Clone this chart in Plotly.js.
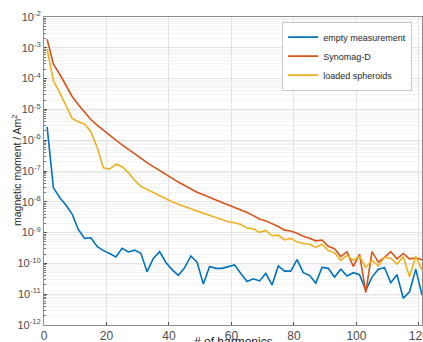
<!DOCTYPE html>
<html>
<head>
<meta charset="utf-8">
<script src="https://cdn.plot.ly/plotly-3.0.1.min.js"></script>
<style>html,body{margin:0;padding:0;background:#fff;}#chart{width:423px;height:342px;}</style>
</head>
<body>
<div id="chart"></div>
<script>
// odd harmonics 1..121
const harmonics = [];
for (let n = 1; n <= 121; n += 2) harmonics.push(n);

const emptyMeasurement = [
  2.7e-6, 2.9e-8, 1.38e-8, 7.9e-9, 4.0e-9, 1.26e-9, 6.5e-10, 6.8e-10, 3.55e-10, 2.6e-10,
  2.1e-10, 1.62e-10, 3.1e-10, 2.35e-10, 2.7e-10, 2.14e-10, 5.4e-11, 1.45e-10, 2.4e-10, 1.07e-10,
  6.3e-11, 4.1e-11, 7.2e-11, 1.74e-10, 1.1e-10, 2.14e-11, 7.9e-11, 6.9e-11, 6.9e-11, 7.9e-11,
  8.9e-11, 4.7e-11, 2.6e-11, 3.16e-11, 2.7e-11, 4.7e-11, 2.0e-11, 8.3e-11, 5.6e-11, 5.6e-11,
  1.32e-10, 5.0e-11, 4.1e-11, 2.3e-11, 7.4e-11, 6.9e-11, 3.6e-11, 6.5e-11, 3.9e-11, 5.0e-11,
  4.3e-11, 1.32e-11, 3.6e-11, 6.5e-11, 7.2e-11, 2.35e-11, 4.3e-11, 7.4e-12, 1.2e-11, 6.5e-11,
  9.3e-12
];

const synomagD = [
  1.9e-3, 2.95e-4, 1.41e-4, 6.0e-5, 2.63e-5, 1.41e-5, 7.9e-6, 4.7e-6, 3.1e-6, 2.1e-6,
  1.41e-6, 1.0e-6, 7.1e-7, 5.0e-7, 3.55e-7, 2.57e-7, 1.86e-7, 1.38e-7, 1.02e-7, 7.6e-8,
  5.6e-8, 4.37e-8, 3.4e-8, 2.63e-8, 2.04e-8, 1.7e-8, 1.38e-8, 1.15e-8, 9.5e-9, 7.9e-9,
  6.6e-9, 5.4e-9, 4.5e-9, 3.55e-9, 2.75e-9, 2.4e-9, 2.0e-9, 1.58e-9, 1.2e-9, 1.12e-9,
  9.5e-10, 7.6e-10, 6.6e-10, 5.4e-10, 5.75e-10, 3.6e-10, 3.0e-10, 1.66e-10, 2.4e-10, 7.9e-11,
  2.0e-10, 1.12e-11, 2.4e-10, 1.1e-10, 1.58e-10, 2.4e-10, 1.41e-10, 2.1e-10, 1.41e-10, 1.5e-10,
  1.32e-10
];

const loadedSpheroids = [
  9.1e-4, 8.5e-5, 3.55e-5, 1.41e-5, 5.1e-6, 4.0e-6, 3.3e-6, 1.9e-6, 5.9e-7, 1.26e-7,
  1.15e-7, 1.66e-7, 1.38e-7, 8.9e-8, 5.0e-8, 3.16e-8, 2.5e-8, 2.04e-8, 1.66e-8, 1.26e-8,
  1.0e-8, 8.3e-9, 6.9e-9, 5.75e-9, 5.0e-9, 4.27e-9, 3.63e-9, 3.16e-9, 2.7e-9, 2.24e-9,
  2.1e-9, 1.82e-9, 1.41e-9, 1.32e-9, 1.02e-9, 1.17e-9, 7.9e-10, 8.3e-10, 5.75e-10, 6.5e-10,
  5.0e-10, 4.4e-10, 4.2e-10, 3.3e-10, 4.2e-10, 2.6e-10, 2.2e-10, 1.26e-10, 1.82e-10, 1.26e-10,
  1.7e-10, 7.4e-11, 1.26e-10, 8.3e-11, 1.58e-10, 1.48e-10, 9.5e-11, 1.66e-10, 3.7e-11, 1.7e-10,
  6.3e-11
];

const seriesNames = ['empty measurement', 'Synomag-D', 'loaded spheroids'];
const yTickVals = [1e-12, 1e-11, 1e-10, 1e-9, 1e-8, 1e-7, 1e-6, 1e-5, 1e-4, 1e-3, 1e-2];
const yTickText = ['10<sup>-12</sup>', '10<sup>-11</sup>', '10<sup>-10</sup>', '10<sup>-9</sup>', '10<sup>-8</sup>',
  '10<sup>-7</sup>', '10<sup>-6</sup>', '10<sup>-5</sup>', '10<sup>-4</sup>', '10<sup>-3</sup>', '10<sup>-2</sup>'];
const xTickVals = [0, 20, 40, 60, 80, 100, 120];
const xTitle = '# of harmonics';
const yTitle = 'magnetic moment / Am<sup>2</sup>';

const colors = ['#0072BD', '#D95319', '#EDB120'];
const seriesData = [emptyMeasurement, synomagD, loadedSpheroids];

const traces = seriesData.map((ys, i) => ({
  x: harmonics, y: ys, type: 'scatter', mode: 'lines', name: seriesNames[i],
  line: {color: colors[i], width: 1.6}
}));

const layout = {
  width: 423, height: 342,
  margin: {l: 44, r: 1, t: 17, b: 17},
  paper_bgcolor: '#fff', plot_bgcolor: '#fff',
  font: {family: 'Liberation Sans, Arial, sans-serif', size: 11, color: '#4d4d4d'},
  showlegend: true,
  legend: {
    x: 0.63, y: 0.985, xanchor: 'left', yanchor: 'top',
    bgcolor: '#fff', bordercolor: '#c8c8c8', borderwidth: 1,
    font: {size: 9, color: '#262626'}, itemwidth: 30, tracegroupgap: 0
  },
  xaxis: {
    range: [0, 121], tickvals: xTickVals, ticks: 'inside', ticklen: 3, tickcolor: '#555',
    showgrid: true, gridcolor: '#e3e3e3', zeroline: false,
    showline: true, linecolor: '#8c8c8c', mirror: true,
    tickfont: {size: 12, color: '#4d4d4d'}, ticklabeloverflow: 'allow'
  },
  yaxis: {
    type: 'log', range: [-12, -2], tickvals: yTickVals, ticktext: yTickText,
    ticks: 'inside', ticklen: 3, tickcolor: '#555',
    showgrid: true, gridcolor: '#e3e3e3', zeroline: false,
    showline: true, linecolor: '#8c8c8c', mirror: true,
    tickfont: {size: 11, color: '#4d4d4d'}, ticklabeloverflow: 'allow',
    minor: {dtick: 'D1', showgrid: true, gridcolor: '#f3f3f3', ticks: 'inside', ticklen: 2, tickcolor: '#777'}
  },
  annotations: [
    {text: xTitle, xref: 'paper', yref: 'paper', x: 0.5, y: -0.026, xanchor: 'center', yanchor: 'top',
     showarrow: false, font: {size: 12, color: '#262626'}},
    {text: yTitle, xref: 'paper', yref: 'paper', x: -0.074, y: 0.5, xanchor: 'center', yanchor: 'middle',
     textangle: -90, showarrow: false, font: {size: 10.5, color: '#262626'}}
  ]
};

Plotly.newPlot('chart', traces, layout, {displayModeBar: false, staticPlot: true});
</script>
</body>
</html>
